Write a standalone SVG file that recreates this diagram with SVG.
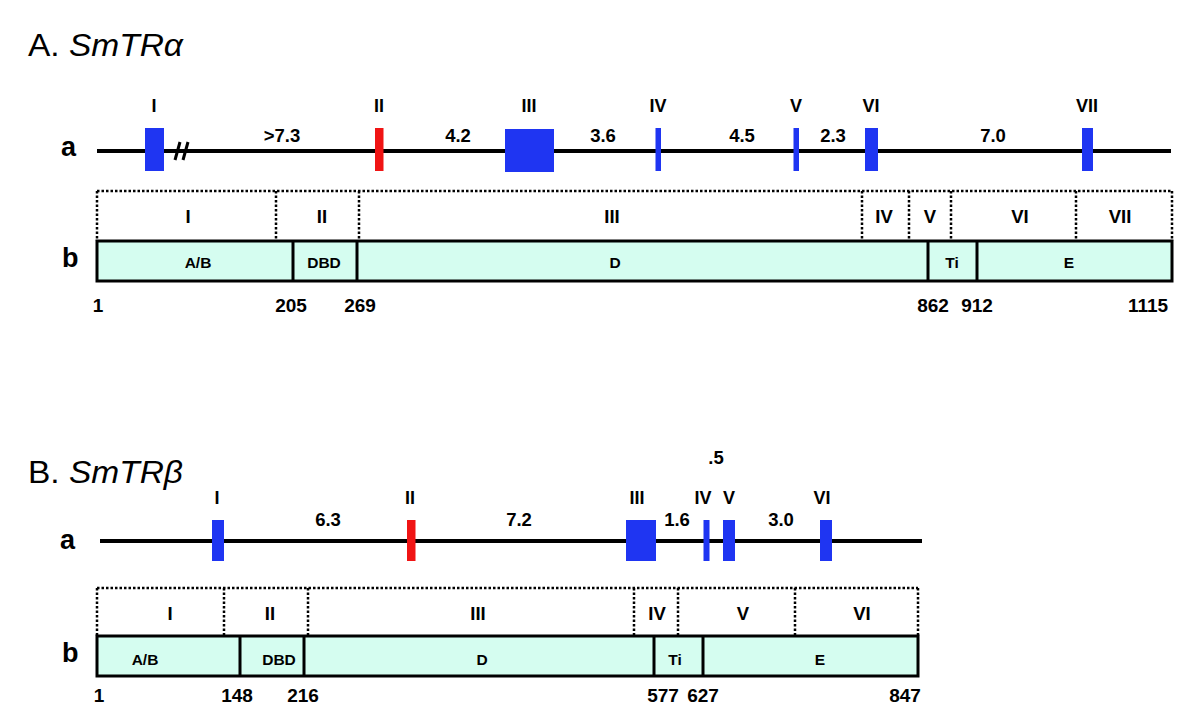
<svg xmlns="http://www.w3.org/2000/svg" width="1200" height="725" viewBox="0 0 1200 725">
<style>
text{font-family:"Liberation Sans",Arial,sans-serif;fill:#000}
.t{font-size:31px}
.it{font-style:italic}
.ab{font-size:27px;font-weight:bold}
.ex{font-size:18px;font-weight:bold;text-anchor:middle}
.ds{font-size:18.5px;font-weight:bold;text-anchor:middle}
.dl{font-size:18.5px;font-weight:bold;text-anchor:middle}
.dm{font-size:15.5px;font-weight:bold;text-anchor:middle}
.ps{font-size:19px;font-weight:bold;text-anchor:middle}
.gene{stroke:#000;stroke-width:4;fill:none}
.blue{fill:#1f35f2}
.red{fill:#f01414}
.dot{stroke:#000;stroke-width:2.5;stroke-dasharray:2.5 2;fill:none}
.box{fill:#d5fdf0;stroke:#000;stroke-width:3}
.div{stroke:#000;stroke-width:3}
.brk{stroke:#000;stroke-width:3}
</style>
<rect width="1200" height="725" fill="#fff"/>

<!-- Panel A -->
<g id="titleA"><text class="t" x="28" y="56" textLength="155" lengthAdjust="spacingAndGlyphs">A. <tspan class="it">SmTRα</tspan></text></g>
<g id="labelAa"><text class="ab" x="61" y="156">a</text></g>
<g id="labelAb"><text class="ab" x="62" y="267">b</text></g>

<g id="connectorsA">
<line class="gene" x1="97" y1="151" x2="1171" y2="151"/>
<line class="brk" x1="175" y1="160" x2="180" y2="142"/>
<line class="brk" x1="183" y1="160" x2="188" y2="142"/>
</g>

<g id="exonA1"><rect class="blue" x="145" y="128" width="19" height="43"/><text class="ex" x="154" y="112">I</text></g>
<g id="exonA2"><rect class="red" x="375" y="128" width="8.5" height="43"/><text class="ex" x="379" y="112">II</text></g>
<g id="exonA3"><rect class="blue" x="505" y="129" width="49" height="43"/><text class="ex" x="529" y="112">III</text></g>
<g id="exonA4"><rect class="blue" x="655.5" y="128" width="5.5" height="43"/><text class="ex" x="658" y="112">IV</text></g>
<g id="exonA5"><rect class="blue" x="793.5" y="128" width="5.5" height="43"/><text class="ex" x="796" y="112">V</text></g>
<g id="exonA6"><rect class="blue" x="865" y="128" width="13" height="43"/><text class="ex" x="871" y="112">VI</text></g>
<g id="exonA7"><rect class="blue" x="1082" y="128" width="11" height="43"/><text class="ex" x="1087" y="112">VII</text></g>

<g id="intronsA">
<text class="ds" x="282" y="142">&gt;7.3</text>
<text class="ds" x="458" y="142">4.2</text>
<text class="ds" x="603" y="142">3.6</text>
<text class="ds" x="742" y="142">4.5</text>
<text class="ds" x="833" y="142">2.3</text>
<text class="ds" x="993" y="142">7.0</text>
</g>

<g id="exonMapA">
<path class="dot" d="M97,191 H1172 M97,191 V241 M276,191 V241 M359,191 V241 M862,191 V241 M909,191 V241 M951,191 V241 M1076,191 V241 M1172,191 V241"/>
<text class="dl" x="188" y="223">I</text>
<text class="dl" x="322" y="223">II</text>
<text class="dl" x="612" y="223">III</text>
<text class="dl" x="884" y="223">IV</text>
<text class="dl" x="930" y="223">V</text>
<text class="dl" x="1020" y="223">VI</text>
<text class="dl" x="1120" y="223">VII</text>
</g>

<g id="domainsA">
<rect class="box" x="97" y="241" width="1075" height="40"/>
<path class="div" d="M293,241 V281 M357,241 V281 M928,241 V281 M977,241 V281"/>
<text class="dm" x="198" y="268">A/B</text>
<text class="dm" x="324" y="268">DBD</text>
<text class="dm" x="615" y="268">D</text>
<text class="dm" x="952" y="268">Ti</text>
<text class="dm" x="1069" y="268">E</text>
</g>

<g id="positionsA">
<text class="ps" x="98" y="312">1</text>
<text class="ps" x="291" y="312">205</text>
<text class="ps" x="360" y="312">269</text>
<text class="ps" x="933" y="312">862</text>
<text class="ps" x="977" y="312">912</text>
<text class="ps" x="1148" y="312">1115</text>
</g>

<!-- Panel B -->
<g id="titleB"><text class="t" x="28" y="483" textLength="155" lengthAdjust="spacingAndGlyphs">B. <tspan class="it">SmTRβ</tspan></text></g>
<g id="labelBa"><text class="ab" x="60" y="549">a</text></g>
<g id="labelBb"><text class="ab" x="62" y="662">b</text></g>

<g id="connectorsB">
<line class="gene" x1="100" y1="541" x2="922" y2="541"/>
</g>

<g id="exonB1"><rect class="blue" x="212" y="520" width="12" height="41"/><text class="ex" x="217" y="504">I</text></g>
<g id="exonB2"><rect class="red" x="407" y="520" width="8.5" height="41"/><text class="ex" x="410" y="504">II</text></g>
<g id="exonB3"><rect class="blue" x="626" y="520" width="30" height="41"/><text class="ex" x="637" y="504">III</text></g>
<g id="exonB4"><rect class="blue" x="703.5" y="520" width="6" height="41"/><text class="ex" x="703" y="504">IV</text></g>
<g id="exonB5"><rect class="blue" x="723" y="520" width="12" height="41"/><text class="ex" x="729" y="504">V</text></g>
<g id="exonB6"><rect class="blue" x="820" y="520" width="12" height="41"/><text class="ex" x="822" y="504">VI</text></g>

<g id="intronsB">
<text class="ds" x="328" y="526">6.3</text>
<text class="ds" x="519" y="526">7.2</text>
<text class="ds" x="677" y="526">1.6</text>
<text class="ds" x="781" y="526">3.0</text>
<text class="ds" x="716" y="464">.5</text>
</g>

<g id="exonMapB">
<path class="dot" d="M97,588 H918 M97,588 V636 M224,588 V636 M308,588 V636 M634,588 V636 M678,588 V636 M795,588 V636 M918,588 V636"/>
<text class="dl" x="170" y="620">I</text>
<text class="dl" x="270" y="620">II</text>
<text class="dl" x="478" y="620">III</text>
<text class="dl" x="657" y="620">IV</text>
<text class="dl" x="743" y="620">V</text>
<text class="dl" x="862" y="620">VI</text>
</g>

<g id="domainsB">
<rect class="box" x="97" y="636" width="821" height="40"/>
<path class="div" d="M240,636 V676 M304,636 V676 M654,636 V676 M703,636 V676"/>
<text class="dm" x="145" y="665">A/B</text>
<text class="dm" x="279" y="665">DBD</text>
<text class="dm" x="482" y="665">D</text>
<text class="dm" x="675" y="665">Ti</text>
<text class="dm" x="820" y="665">E</text>
</g>

<g id="positionsB">
<text class="ps" x="99" y="702">1</text>
<text class="ps" x="237" y="702">148</text>
<text class="ps" x="303" y="702">216</text>
<text class="ps" x="663" y="702">577</text>
<text class="ps" x="703" y="702">627</text>
<text class="ps" x="905" y="702">847</text>
</g>
</svg>
